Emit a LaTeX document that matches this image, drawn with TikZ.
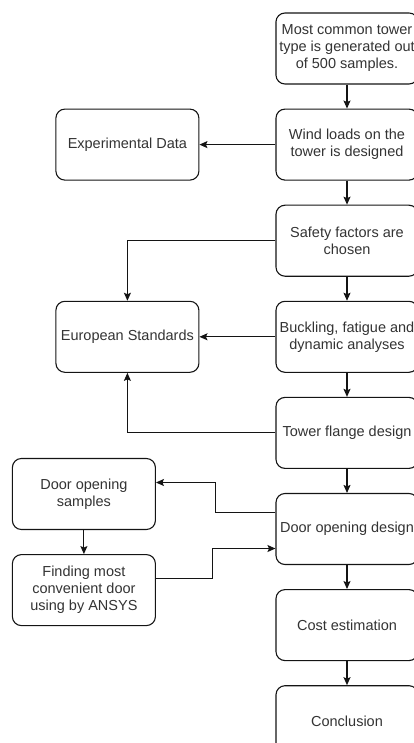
\documentclass[tikz,border=0pt]{standalone}
\usepackage{fontspec}
\setmainfont{Liberation Sans}
\usetikzlibrary{arrows.meta,calc,positioning}
\definecolor{boxline}{RGB}{20,20,20}
\definecolor{boxtext}{RGB}{51,51,51}
\tikzset{
	>={Stealth[width=7pt,length=8pt,inset=1.5pt]},
	% Specifications for style of nodes:
	stage/.style = {rectangle, rounded corners=9pt,
	minimum width=142pt, minimum height=71pt,
	draw=boxline, line width=1.1pt, text=boxtext,
	align=center, font=\fontsize{14.5}{17}\selectfont},
	side/.style ={stage, minimum width=143pt},
	link/.style ={line width=1.1pt, draw=boxline},
}

\begin{document}
\begin{tikzpicture}
	\useasboundingbox (0,0) rectangle (414pt,-743pt);
		% main column
		\node (tower)[stage] at (347pt,-48.5pt) {Most common tower\\type is generated out\\of 500 samples.};
		\node (wind)[stage, below=24pt of tower]{Wind loads on the\\tower is designed};
		\node (safety)[stage, below=24pt of wind]{Safety factors are\\chosen};
		\node (buckling)[stage, below=24pt of safety]{Buckling, fatigue and\\dynamic analyses};
		\node (flange)[stage, below=24pt of buckling]{Tower flange design};
		\node (door)[stage, below=24pt of flange]{Door opening design};
		\node (cost)[stage, below=24pt of door]{Cost estimation};
		\node (concl)[stage, below=24pt of cost]{Conclusion};
		% side boxes
		\node (expdata)[side, left=76pt of wind]{Experimental Data};
		\node (europe)[side, left=76pt of buckling]{European Standards};
		\node (samples)[side, left=119.5pt of door, yshift=35pt]{Door opening\\samples};
		\node (finding)[side, below=24pt of samples]{Finding most\\convenient door\\using by ANSYS};
		% connection coordinates for the door loop
		\node (A)[shape=coordinate] at ([yshift=16.5pt]door.west) {};
		\node (B)[shape=coordinate] at ([yshift=11.5pt]samples.east) {};
		\node (C)[shape=coordinate] at ([yshift=11.5pt]finding.east) {};
		\node (D)[shape=coordinate] at ([yshift=-19.5pt]door.west) {};
		% draw arrows between nodes
		\draw[link,->](tower) -- (wind);
		\draw[link,->](wind) -- (safety);
		\draw[link,->](safety) -- (buckling);
		\draw[link,->](buckling) -- (flange);
		\draw[link,->](flange) -- (door);
		\draw[link,->](door) -- (cost);
		\draw[link,->](cost) -- (concl);
		\draw[link,->](wind) -- (expdata);
		\draw[link,->](buckling) -- (europe);
		\draw[link,->](safety.west) -| (europe.north);
		\draw[link,->](flange.west) -| (europe.south);
		\draw[link,->](samples) -- (finding);
		\draw[link,->](A) -| ($(A)!0.5!(B)$) |- (B);
		\draw[link,->](C) -| ($(C)!0.47!(D)$) |- (D);
	\end{tikzpicture}
\end{document}
